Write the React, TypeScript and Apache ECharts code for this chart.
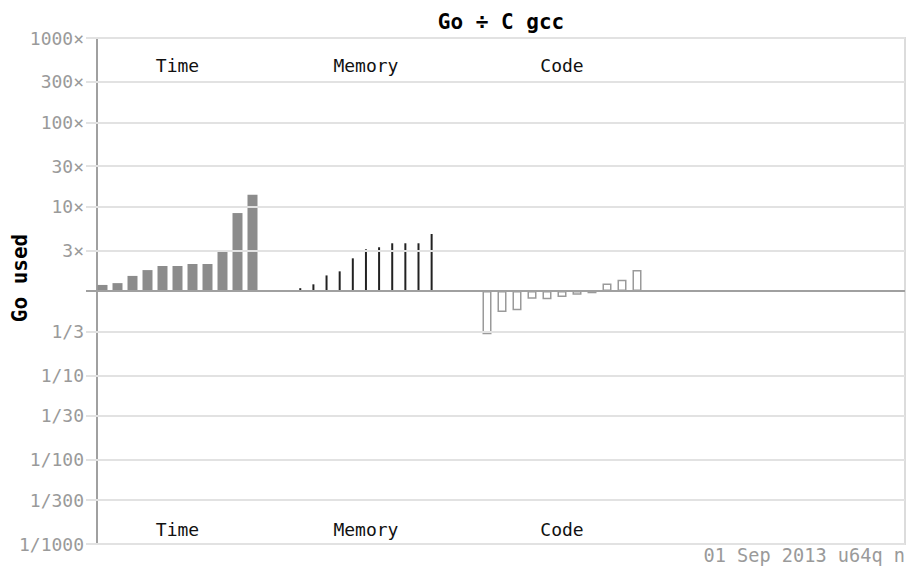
import React, { useEffect, useRef } from "react";
import * as echarts from "echarts";

// ---- data ----
const groupNames = ["Time", "Memory", "Code"];
const benchIndex = ["1", "2", "3", "4", "5", "6", "7", "8", "9", "10", "11"];
const timeValues = [1.18, 1.24, 1.51, 1.77, 1.98, 1.98, 2.09, 2.09, 2.98, 8.4, 13.8];
const memoryValues = [1.08, 1.2, 1.53, 1.71, 2.44, 3.12, 3.3, 3.68, 3.68, 3.68, 4.74];
const codeValues = [0.306, 0.563, 0.59, 0.81, 0.8, 0.85, 0.9, 0.94, 1.23, 1.36, 1.77];
const tickValues = [1000, 300, 100, 30, 10, 3, 1, 1 / 3, 1 / 10, 1 / 30, 1 / 100, 1 / 300, 1 / 1000];
const tickLabels = ["1000×", "300×", "100×", "30×", "10×", "3×", "", "1/3", "1/10", "1/30", "1/100", "1/300", "1/1000"];
const titleText = "Go ÷ C gcc";
const yName = "Go used";
const footText = "01 Sep 2013 u64q n";

// ---- layout ----
const W = 911;
const H = 570;
const TOP = 38;
const BOTTOM = 26;
const RIGHT = 6;
const AXIS_LEFT = 97;
const GRIDLINE_LEFT = 86;
const groupBoxes = [
  { left: 95, width: 165 },
  { left: 293.7, width: 144.5 },
  { left: 479.5, width: 165 },
];
const MONO = '"DejaVu Sans Mono", "Liberation Mono", monospace';

export default function App() {
  const ref = useRef<HTMLDivElement>(null);

  useEffect(() => {
    if (!ref.current) return;
    const chart = echarts.init(ref.current, undefined, { renderer: "svg" });

    const grids: any[] = [
      { left: GRIDLINE_LEFT, right: RIGHT, top: TOP, bottom: BOTTOM },
      {
        left: AXIS_LEFT, right: RIGHT, top: TOP, bottom: BOTTOM,
        show: true, borderColor: "#dcdcdc", borderWidth: 2, backgroundColor: "transparent",
      },
      ...groupBoxes.map((g) => ({ left: g.left, width: g.width, top: TOP, bottom: BOTTOM })),
    ];

    const xAxes: any[] = grids.map((_, i) =>
      i < 2
        ? { gridIndex: i, type: "value", min: 0, max: 1, show: false }
        : { gridIndex: i, type: "category", data: benchIndex, show: false }
    );

    const hiddenBits = {
      axisLabel: { show: false },
      axisTick: { show: false },
      splitLine: { show: false },
    };

    const yAxes: any[] = grids.map((_, i) =>
      i === 0
        ? // gridline axis: decimal exponent of the ratio (log10 scale, linear in exponent)
          { gridIndex: 0, type: "value", min: -3, max: 3, ...hiddenBits, axisLine: { show: false } }
        : {
            gridIndex: i,
            type: "log",
            logBase: 10,
            min: 0.001,
            max: 1000,
            ...hiddenBits,
            axisLine: i === 1
              ? { show: true, onZero: false, lineStyle: { color: "#a0a0a0", width: 2 } }
              : { show: false },
          }
    );

    const groupSeries = [timeValues, memoryValues, codeValues];
    const groupStyles: any[] = [
      { barWidth: 10, itemStyle: { color: "#8c8c8c" } },
      { barWidth: 2, itemStyle: { color: "#222" } },
      { barWidth: 9, itemStyle: { color: "rgba(255,255,255,0)", borderColor: "#9a9a9a", borderWidth: 1.5 } },
    ];

    const series: any[] = [
      {
        type: "line",
        xAxisIndex: 0,
        yAxisIndex: 0,
        data: [],
        z: 1,
        markLine: {
          silent: true,
          symbol: ["none", "none"],
          animation: false,
          label: {
            show: true,
            position: "start",
            formatter: "{b}",
            color: "#9a9a9a",
            fontFamily: MONO,
            fontSize: 18,
            distance: 2,
          },
          data: tickValues.map((v, i) => ({
            yAxis: Math.log10(v),
            name: tickLabels[i],
            lineStyle: v === 1
              ? { color: "#a0a0a0", width: 2, type: "solid" }
              : { color: "#e2e2e2", width: 2, type: "solid" },
          })),
        },
      },
      ...groupSeries.map((vals, gi) => ({
        type: "bar",
        name: groupNames[gi],
        xAxisIndex: gi + 2,
        yAxisIndex: gi + 2,
        data: vals,
        z: 3,
        ...groupStyles[gi],
      })),
    ];

    const graphics: any[] = [
      {
        type: "text",
        x: (AXIS_LEFT + (W - RIGHT)) / 2,
        y: 22,
        style: { text: titleText, font: `bold 21px ${MONO}`, fill: "#000", align: "center", verticalAlign: "middle" },
      },
      {
        type: "text",
        x: 20,
        y: 278,
        rotation: Math.PI / 2,
        style: { text: yName, font: `bold 21px ${MONO}`, fill: "#000", align: "center", verticalAlign: "middle" },
      },
      {
        type: "text",
        x: W - RIGHT,
        y: 555,
        style: { text: footText, font: `18.6px ${MONO}`, fill: "#9a9a9a", align: "right", verticalAlign: "middle" },
      },
    ];
    groupBoxes.forEach((g, gi) => {
      const cx = g.left + g.width / 2;
      [65, 529].forEach((yy) => {
        graphics.push({
          type: "text",
          x: cx,
          y: yy,
          style: { text: groupNames[gi], font: `18px ${MONO}`, fill: "#111", align: "center", verticalAlign: "middle" },
        });
      });
    });

    chart.setOption({
      animation: false,
      grid: grids,
      xAxis: xAxes,
      yAxis: yAxes,
      series,
      graphic: graphics,
    });

    return () => chart.dispose();
  }, []);

  return <div ref={ref} style={{ position: "absolute", left: 0, top: 0, width: W, height: H, background: "#fff" }} />;
}
